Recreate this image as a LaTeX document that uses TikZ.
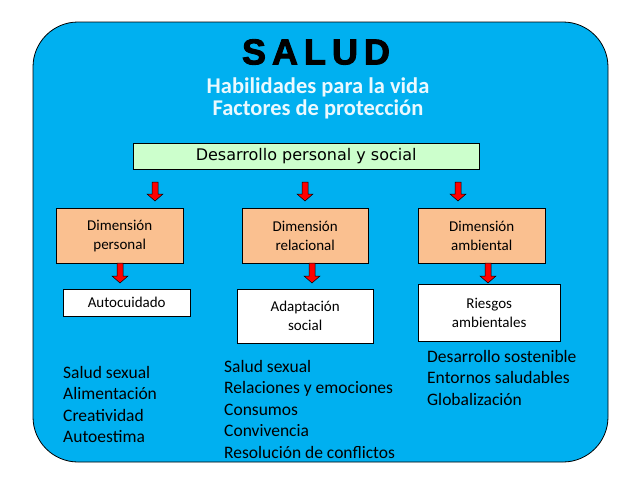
\documentclass[tikz,border=0pt]{standalone}
\usepackage{fontspec}
\setmainfont{Carlito}
\newfontfamily\blackf[FakeBold=2.5]{Liberation Sans}
\newfontfamily\verd{DejaVu Sans}
\begin{document}
\begin{tikzpicture}[x=1pt,y=-1pt,
  dimbox/.style={draw,fill=peach,align=center,font=\fontsize{15}{19}\selectfont,anchor=north west,inner sep=0pt},
  resbox/.style={draw,fill=white,align=center,font=\fontsize{15}{19}\selectfont,anchor=north west,inner sep=0pt},
  listtxt/.style={align=left,anchor=north west,font=\fontsize{17.5}{21.5}\selectfont,inner sep=0pt}]
\definecolor{sky}{HTML}{00B0F0}
\definecolor{peach}{HTML}{FAC090}
\definecolor{mint}{HTML}{CCFFCC}
\definecolor{arrred}{HTML}{FF0000}
\useasboundingbox (0,0) rectangle (638,479);
\fill[white] (0,0) rectangle (638,479);
\draw[fill=sky,rounded corners=45pt,line width=0.8pt] (33,22) rectangle (608,462);
\node (title) at (316,52) {\blackf\bfseries\fontsize{36}{36}\selectfont S\kern6pt A\kern6pt L\kern6pt U\kern6pt D};
\node[text=white!92!sky,align=center,font=\bfseries\fontsize{22.5}{22}\selectfont] (sub) at (318,98) {Habilidades para la vida\\Factores de protección};
\node[draw,fill=mint,minimum width=346pt,minimum height=26pt,anchor=north west,inner sep=0pt,font=\verd\fontsize{16}{18}\selectfont] (dps) at (133,143) {Desarrollo personal y social};
\node[dimbox,minimum width=127pt,minimum height=55pt] (d1) at (56,208) {Dimensión\\personal};
\node[dimbox,minimum width=126pt,minimum height=55pt] (d2) at (242,208) {Dimensión\\relacional};
\node[dimbox,minimum width=127pt,minimum height=55pt] (d3) at (418,208) {Dimensión\\ambiental};
\node[resbox,minimum width=127pt,minimum height=27pt] (r1) at (63,289) {Autocuidado};
\node[resbox,minimum width=136pt,minimum height=54pt] (r2) at (237,289) {Adaptación\\social};
\node[resbox,minimum width=142pt,minimum height=57pt] (r3) at (418,284) {Riesgos\\ambientales};
\node[listtxt] (l1) at (63,366) {Salud sexual\\Alimentación\\Creatividad\\Autoestima};
\node[listtxt] (l2) at (224,360) {Salud sexual\\Relaciones y emociones\\Consumos\\Convivencia\\Resolución de conflictos};
\node[listtxt] (l3) at (427,350) {Desarrollo sostenible\\Entornos saludables\\Globalización};
\newcommand{\blockarrow}[3]{%
  \draw[fill=arrred,line width=0.5pt] (#1-3,#2) -- (#1+3,#2) -- (#1+3,#3-7) -- (#1+8,#3-7) -- (#1,#3) -- (#1-8,#3-7) -- (#1-3,#3-7) -- cycle;}
\blockarrow{155}{182}{201}
\blockarrow{305}{182}{201}
\blockarrow{458}{182}{201}
\blockarrow{120}{263}{283}
\blockarrow{312}{263}{283}
\blockarrow{488}{263}{283}
\end{tikzpicture}
\end{document}
